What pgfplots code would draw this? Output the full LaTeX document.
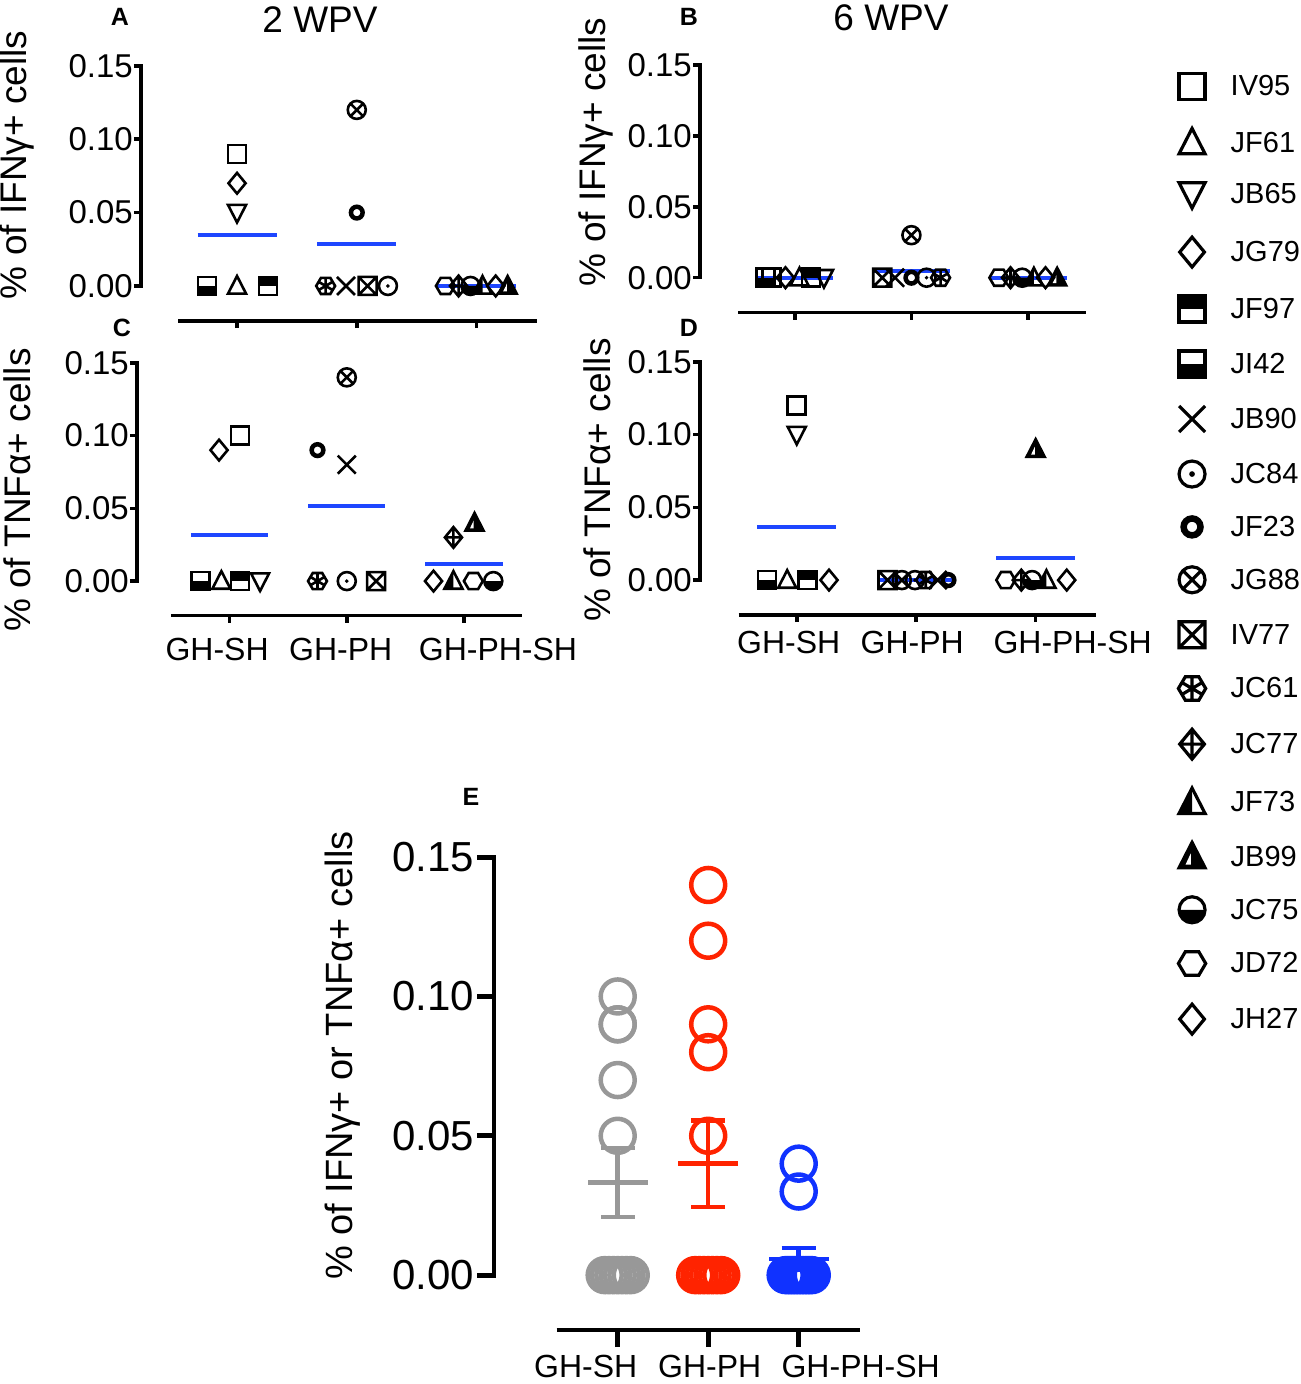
\documentclass[border=0pt]{standalone}
\usepackage{fontspec}
\setmainfont{Liberation Sans}
\usepackage{pgfplots}
\pgfplotsset{compat=1.18}

\definecolor{mblue}{RGB}{30,70,255}
\definecolor{egray}{RGB}{152,152,152}
\definecolor{ered}{RGB}{255,35,0}
\definecolor{eblue}{RGB}{16,50,255}

\def\mk{\pgfplotmarksize}
\def\sqpath{\pgfpathrectangle{\pgfqpoint{-\mk}{-\mk}}{\pgfqpoint{2\mk}{2\mk}}}
\def\tripath{\pgfpathmoveto{\pgfqpoint{0pt}{1.1\mk}}\pgfpathlineto{\pgfqpoint{-\mk}{-.85\mk}}\pgfpathlineto{\pgfqpoint{\mk}{-.85\mk}}\pgfpathclose}
\def\diapath{\pgfpathmoveto{\pgfqpoint{0pt}{1.15\mk}}\pgfpathlineto{\pgfqpoint{.95\mk}{0pt}}\pgfpathlineto{\pgfqpoint{0pt}{-1.15\mk}}\pgfpathlineto{\pgfqpoint{-.95\mk}{0pt}}\pgfpathclose}
\def\hexpath{\pgfpathmoveto{\pgfqpoint{1.05\mk}{0pt}}\pgfpathlineto{\pgfqpoint{.52\mk}{.9\mk}}\pgfpathlineto{\pgfqpoint{-.52\mk}{.9\mk}}\pgfpathlineto{\pgfqpoint{-1.05\mk}{0pt}}\pgfpathlineto{\pgfqpoint{-.52\mk}{-.9\mk}}\pgfpathlineto{\pgfqpoint{.52\mk}{-.9\mk}}\pgfpathclose}

\pgfdeclareplotmark{m-sq}{\sqpath\pgfusepathqstroke}
\pgfdeclareplotmark{m-tri}{\tripath\pgfusepathqstroke}
\pgfdeclareplotmark{m-trid}{\pgfpathmoveto{\pgfqpoint{0pt}{-1.1\mk}}\pgfpathlineto{\pgfqpoint{-\mk}{.85\mk}}\pgfpathlineto{\pgfqpoint{\mk}{.85\mk}}\pgfpathclose\pgfusepathqstroke}
\pgfdeclareplotmark{m-dia}{\diapath\pgfusepathqstroke}
\pgfdeclareplotmark{m-sqtop}{\pgfpathrectangle{\pgfqpoint{-\mk}{0pt}}{\pgfqpoint{2\mk}{\mk}}\pgfusepathqfill\sqpath\pgfusepathqstroke}
\pgfdeclareplotmark{m-sqbot}{\pgfpathrectangle{\pgfqpoint{-\mk}{-\mk}}{\pgfqpoint{2\mk}{\mk}}\pgfusepathqfill\sqpath\pgfusepathqstroke}
\pgfdeclareplotmark{m-x}{\pgfpathmoveto{\pgfqpoint{-\mk}{-\mk}}\pgfpathlineto{\pgfqpoint{\mk}{\mk}}\pgfpathmoveto{\pgfqpoint{-\mk}{\mk}}\pgfpathlineto{\pgfqpoint{\mk}{-\mk}}\pgfusepathqstroke}
\pgfdeclareplotmark{m-odot}{\pgfpathcircle{\pgfpointorigin}{\mk}\pgfusepathqstroke\pgfpathcircle{\pgfpointorigin}{.22\mk}\pgfusepathqfill}
\pgfdeclareplotmark{m-othick}{\pgfscope\pgfsetlinewidth{.5\mk}\pgfpathcircle{\pgfpointorigin}{.65\mk}\pgfusepathqstroke\endpgfscope}
\pgfdeclareplotmark{m-otimes}{\pgfpathcircle{\pgfpointorigin}{\mk}\pgfpathmoveto{\pgfqpoint{-.707\mk}{-.707\mk}}\pgfpathlineto{\pgfqpoint{.707\mk}{.707\mk}}\pgfpathmoveto{\pgfqpoint{-.707\mk}{.707\mk}}\pgfpathlineto{\pgfqpoint{.707\mk}{-.707\mk}}\pgfusepathqstroke}
\pgfdeclareplotmark{m-sqx}{\sqpath\pgfpathmoveto{\pgfqpoint{-\mk}{-\mk}}\pgfpathlineto{\pgfqpoint{\mk}{\mk}}\pgfpathmoveto{\pgfqpoint{-\mk}{\mk}}\pgfpathlineto{\pgfqpoint{\mk}{-\mk}}\pgfusepathqstroke}
\pgfdeclareplotmark{m-hex}{\hexpath\pgfusepathqstroke}
\pgfdeclareplotmark{m-hexast}{\hexpath\pgfpathmoveto{\pgfqpoint{0pt}{.9\mk}}\pgfpathlineto{\pgfqpoint{0pt}{-.9\mk}}\pgfpathmoveto{\pgfqpoint{-.68\mk}{.4\mk}}\pgfpathlineto{\pgfqpoint{.68\mk}{-.4\mk}}\pgfpathmoveto{\pgfqpoint{-.68\mk}{-.4\mk}}\pgfpathlineto{\pgfqpoint{.68\mk}{.4\mk}}\pgfusepathqstroke}
\pgfdeclareplotmark{m-diaplus}{\diapath\pgfpathmoveto{\pgfqpoint{0pt}{1.15\mk}}\pgfpathlineto{\pgfqpoint{0pt}{-1.15\mk}}\pgfpathmoveto{\pgfqpoint{-.95\mk}{0pt}}\pgfpathlineto{\pgfqpoint{.95\mk}{0pt}}\pgfusepathqstroke}
\pgfdeclareplotmark{m-trileft}{\pgfpathmoveto{\pgfqpoint{0pt}{1.1\mk}}\pgfpathlineto{\pgfqpoint{-\mk}{-.85\mk}}\pgfpathlineto{\pgfqpoint{0pt}{-.85\mk}}\pgfpathclose\pgfusepathqfill\tripath\pgfusepathqstroke}
\pgfdeclareplotmark{m-triright}{\tripath\pgfusepathqfillstroke\pgfscope\pgfsetfillcolor{white}\pgfpathmoveto{\pgfqpoint{-.1\mk}{.25\mk}}\pgfpathlineto{\pgfqpoint{-.5\mk}{-.6\mk}}\pgfpathlineto{\pgfqpoint{-.1\mk}{-.6\mk}}\pgfpathclose\pgfusepathqfill\endpgfscope}
\pgfdeclareplotmark{m-ohalf}{\pgfpathmoveto{\pgfqpoint{-\mk}{0pt}}\pgfpatharc{180}{360}{\mk}\pgfpathclose\pgfusepathqfill\pgfpathcircle{\pgfpointorigin}{\mk}\pgfusepathqstroke}

\pgfplotsset{
  pt/.style={only marks, black, mark size=9pt, mark options={solid, draw=black, fill=black, line width=2.6pt}},
  a-IV95/.style={pt, mark=m-sq}, a-JF61/.style={pt, mark=m-tri}, a-JB65/.style={pt, mark=m-trid},
  a-JG79/.style={pt, mark=m-dia}, a-JF97/.style={pt, mark=m-sqtop}, a-JI42/.style={pt, mark=m-sqbot},
  a-JB90/.style={pt, mark=m-x}, a-JC84/.style={pt, mark=m-odot}, a-JF23/.style={pt, mark=m-othick},
  a-JG88/.style={pt, mark=m-otimes}, a-IV77/.style={pt, mark=m-sqx}, a-JC61/.style={pt, mark=m-hexast},
  a-JC77/.style={pt, mark=m-diaplus}, a-JF73/.style={pt, mark=m-trileft}, a-JB99/.style={pt, mark=m-triright},
  a-JC75/.style={pt, mark=m-ohalf}, a-JD72/.style={pt, mark=m-hex}, a-JH27/.style={pt, mark=m-dia},
  meanl/.style={mblue, line width=4pt, forget plot},
  ebar/.style={only marks, #1, mark=-, mark size=30pt, mark options={solid, line width=4.5pt},
    error bars/.cd, y dir=both, y explicit, error bar style={line width=4.5pt, #1},
    error mark=-, error mark options={#1, rotate=90, mark size=17pt, line width=4.5pt}},
  epts/.style={only marks, #1, mark=o, mark size=17pt, mark options={solid, line width=4.5pt}},
  panel/.style={
    scale only axis, clip=false, anchor=south west,
    axis x line*=bottom, axis y line*=left,
    axis line style={draw=none},
    tick align=outside, major tick length=7pt,
    tick style={black, line width=3.5pt},
    xtick={1,2,3}, ytick={0,0.05,0.1,0.15},
    yticklabels={0.00,0.05,0.10,0.15},
    xticklabels={},
    /pgf/number format/assume math mode=true,
    yticklabel style={font=\fontsize{33}{33}\selectfont, inner sep=1pt},
    xticklabel style={font=\fontsize{32}{32}\selectfont, inner sep=0pt, anchor=north},
  },
}

\begin{document}
\begin{tikzpicture}
\useasboundingbox (0,0) rectangle (1301pt,-1384pt);
\clip (0,0) rectangle (1301pt,-1384pt);

% ---------------- Panel A ----------------
\begin{axis}[panel, at={(141pt,-321pt)}, width=396pt, height=255.1pt,
  xmin=0.198, xmax=3.505, ymin=-0.0239, ymax=0.15,
  ylabel={\% of IFNγ+ cells},
  ylabel style={at={(axis description cs:-0.313,0.612)}, anchor=center, font=\fontsize{37}{37}\selectfont}]
\addplot[a-IV95] coordinates {(1,0.09)};
\addplot[a-JF61] coordinates {(1,0)};
\addplot[a-JB65] coordinates {(1,0.05)};
\addplot[a-JG79] coordinates {(1,0.07)};
\addplot[a-JF97] coordinates {(1.26,0)};
\addplot[a-JI42] coordinates {(0.75,0)};
\addplot[a-JB90] coordinates {(1.91,0)};
\addplot[a-JC84] coordinates {(2.26,0)};
\addplot[a-JF23] coordinates {(2,0.05)};
\addplot[a-JG88] coordinates {(2,0.12)};
\addplot[a-IV77] coordinates {(2.09,0)};
\addplot[a-JC61] coordinates {(1.74,0)};
\addplot[a-JC77] coordinates {(2.85,0)};
\addplot[a-JF73] coordinates {(3.05,0)};
\addplot[a-JB99] coordinates {(3.26,0)};
\addplot[a-JC75] coordinates {(2.95,0)};
\addplot[a-JD72] coordinates {(2.74,0)};
\addplot[a-JH27] coordinates {(3.16,0)};
\addplot[meanl] coordinates {(0.67,0.035) (1.33,0.035)};
\addplot[meanl] coordinates {(1.67,0.0283) (2.33,0.0283)};
\addplot[meanl] coordinates {(2.67,0) (3.33,0)};
\draw[line width=3.5pt, line cap=rect] (axis cs:0.198,0) -- (axis cs:0.198,0.15);
\draw[line width=3.5pt] (axis cs:0.508,-0.0239) -- (axis cs:3.505,-0.0239);
\end{axis}

% ---------------- Panel B ----------------
\begin{axis}[panel, at={(700pt,-312.7pt)}, width=385.5pt, height=247.7pt,
  xmin=0.187, xmax=3.493, ymin=-0.0247, ymax=0.15,
  ylabel={\% of IFNγ+ cells},
  ylabel style={at={(axis description cs:-0.27,0.649)}, anchor=center, font=\fontsize{37}{37}\selectfont},
  legend style={at={(axis description cs:1.241,0.966)}, anchor=north west, draw=none, fill=none,
    inner sep=0pt, outer sep=0pt, row sep=29pt, column sep=25pt,
    font=\fontsize{29}{29}\selectfont, nodes={inner sep=0pt}},
  legend cell align=left,
  legend image code/.code={\draw[#1, mark size=13pt, every mark/.append style={line width=3.2pt}] plot coordinates {(14.5pt,0pt)};}]
\addplot[a-IV95] coordinates {(0.8,0)};
\addplot[a-JF61] coordinates {(1.04,0)};
\addplot[a-JB65] coordinates {(1.25,0)};
\addplot[a-JG79] coordinates {(0.92,0)};
\addplot[a-JF97] coordinates {(1.14,0)};
\addplot[a-JI42] coordinates {(0.75,0)};
\addplot[a-JB90] coordinates {(1.86,0)};
\addplot[a-JC84] coordinates {(2.13,0)};
\addplot[a-JF23] coordinates {(2,0)};
\addplot[a-JG88] coordinates {(2,0.03)};
\addplot[a-IV77] coordinates {(1.75,0)};
\addplot[a-JC61] coordinates {(2.25,0)};
\addplot[a-JC77] coordinates {(2.85,0)};
\addplot[a-JF73] coordinates {(3.05,0)};
\addplot[a-JB99] coordinates {(3.25,0)};
\addplot[a-JC75] coordinates {(2.95,0)};
\addplot[a-JD72] coordinates {(2.75,0)};
\addplot[a-JH27] coordinates {(3.15,0)};
\legend{IV95,JF61,JB65,JG79,JF97,JI42,JB90,JC84,JF23,JG88,IV77,JC61,JC77,JF73,JB99,JC75,JD72,JH27}
\addplot[meanl] coordinates {(0.67,0) (1.33,0)};
\addplot[meanl] coordinates {(1.67,0.005) (2.33,0.005)};
\addplot[meanl] coordinates {(2.67,0) (3.33,0)};
\draw[line width=3.5pt, line cap=rect] (axis cs:0.187,0) -- (axis cs:0.187,0.15);
\draw[line width=3.5pt] (axis cs:0.517,-0.0247) -- (axis cs:3.493,-0.0247);
\end{axis}

% ---------------- Panel C ----------------
\begin{axis}[panel, at={(137pt,-615.7pt)}, width=385pt, height=252.9pt,
  xmin=0.21, xmax=3.495, ymin=-0.0238, ymax=0.15,
  xticklabels={{\hspace*{-25pt}GH-SH},{\hspace*{-12pt}GH-PH},{\hspace*{68pt}GH-PH-SH}},
  xticklabel style={yshift=-15pt},
  ylabel={\% of TNFα+ cells},
  ylabel style={at={(axis description cs:-0.312,0.497)}, anchor=center, font=\fontsize{37}{37}\selectfont}]
\addplot[a-IV95] coordinates {(1.09,0.10)};
\addplot[a-JF61] coordinates {(0.93,0)};
\addplot[a-JB65] coordinates {(1.26,0)};
\addplot[a-JG79] coordinates {(0.91,0.09)};
\addplot[a-JF97] coordinates {(1.09,0)};
\addplot[a-JI42] coordinates {(0.75,0)};
\addplot[a-JB90] coordinates {(2,0.08)};
\addplot[a-JC84] coordinates {(2,0)};
\addplot[a-JF23] coordinates {(1.75,0.09)};
\addplot[a-JG88] coordinates {(2,0.14)};
\addplot[a-IV77] coordinates {(2.25,0)};
\addplot[a-JC61] coordinates {(1.75,0)};
\addplot[a-JC77] coordinates {(2.91,0.03)};
\addplot[a-JF73] coordinates {(2.91,0)};
\addplot[a-JB99] coordinates {(3.09,0.04)};
\addplot[a-JC75] coordinates {(3.25,0)};
\addplot[a-JD72] coordinates {(3.08,0)};
\addplot[a-JH27] coordinates {(2.74,0)};
\addplot[meanl] coordinates {(0.67,0.0317) (1.33,0.0317)};
\addplot[meanl] coordinates {(1.67,0.0517) (2.33,0.0517)};
\addplot[meanl] coordinates {(2.67,0.0117) (3.33,0.0117)};
\draw[line width=3.5pt, line cap=rect] (axis cs:0.21,0) -- (axis cs:0.21,0.15);
\draw[line width=3.5pt] (axis cs:0.50,-0.0238) -- (axis cs:3.495,-0.0238);
\end{axis}

% ---------------- Panel D ----------------
\begin{axis}[panel, at={(700pt,-615pt)}, width=396.1pt, height=253.2pt,
  xmin=0.19, xmax=3.506, ymin=-0.024, ymax=0.15,
  xticklabels={{\hspace*{-16pt}GH-SH},{\hspace*{-8pt}GH-PH},{\hspace*{74pt}GH-PH-SH}},
  xticklabel style={yshift=-9pt},
  ylabel={\% of TNFα+ cells},
  ylabel style={at={(axis description cs:-0.26,0.533)}, anchor=center, font=\fontsize{37}{37}\selectfont}]
\addplot[a-IV95] coordinates {(1,0.12)};
\addplot[a-JF61] coordinates {(0.92,0)};
\addplot[a-JB65] coordinates {(1,0.10)};
\addplot[a-JG79] coordinates {(1.27,0)};
\addplot[a-JF97] coordinates {(1.09,0)};
\addplot[a-JI42] coordinates {(0.75,0)};
\addplot[a-JB90] coordinates {(2.18,0)};
\addplot[a-JC84] coordinates {(1.99,0)};
\addplot[a-JF23] coordinates {(2.27,0)};
\addplot[a-JG88] coordinates {(1.88,0)};
\addplot[a-IV77] coordinates {(1.76,0)};
\addplot[a-JC61] coordinates {(2.08,0)};
\addplot[a-JC77] coordinates {(2.88,0)};
\addplot[a-JF73] coordinates {(3.09,0)};
\addplot[a-JB99] coordinates {(3,0.09)};
\addplot[a-JC75] coordinates {(2.97,0)};
\addplot[a-JD72] coordinates {(2.75,0)};
\addplot[a-JH27] coordinates {(3.26,0)};
\addplot[meanl] coordinates {(0.67,0.0367) (1.33,0.0367)};
\addplot[meanl] coordinates {(1.67,0) (2.33,0)};
\addplot[meanl] coordinates {(2.67,0.015) (3.33,0.015)};
\draw[line width=3.5pt, line cap=rect] (axis cs:0.19,0) -- (axis cs:0.19,0.15);
\draw[line width=3.5pt] (axis cs:0.513,-0.024) -- (axis cs:3.506,-0.024);
\end{axis}

% ---------------- Panel E ----------------
\begin{axis}[panel, at={(494pt,-1330pt)}, width=365.7pt, height=472.9pt,
  xmin=-0.367, xmax=3.674, ymin=-0.0197, ymax=0.15,
  major tick length=17pt, tick style={black, line width=4.8pt},
  yticklabel style={font=\fontsize{42}{42}\selectfont, inner sep=3pt},
  xticklabels={{\hspace*{-64pt}GH-SH},{\hspace*{3pt}GH-PH},{\hspace*{124pt}GH-PH-SH}},
  xticklabel style={yshift=-8pt},
  ylabel={\% of IFNγ+ or TNFα+ cells},
  ylabel style={at={(axis description cs:-0.413,0.58)}, anchor=center, font=\fontsize{38}{38}\selectfont}]
\addplot[epts=egray]
  coordinates {(1,0.10) (1,0.09) (1,0.09) (1,0.07) (1,0.05)
  (0.856,0) (0.904,0) (0.952,0) (1,0) (1.048,0) (1.096,0) (1.144,0)};
\addplot[epts=ered]
  coordinates {(2,0.14) (2,0.12) (2,0.09) (2,0.08) (2,0.05)
  (1.856,0) (1.904,0) (1.952,0) (2,0) (2.048,0) (2.096,0) (2.144,0)};
\addplot[epts=eblue]
  coordinates {(3,0.04) (3,0.03)
  (2.856,0) (2.888,0) (2.920,0) (2.952,0) (2.984,0) (3.016,0) (3.048,0) (3.080,0) (3.112,0) (3.144,0)};
\addplot[ebar=egray] coordinates {(1,0.0333) +- (0,0.0124)};
\addplot[ebar=ered] coordinates {(2,0.04) +- (0,0.0155)};
\addplot[ebar=eblue] coordinates {(3,0.0058) +- (0,0.0040)};
\draw[line width=4.8pt, line cap=rect] (axis cs:-0.367,0) -- (axis cs:-0.367,0.15);
\draw[line width=4.8pt] (axis cs:0.326,-0.0197) -- (axis cs:3.674,-0.0197);
\end{axis}

% ---------------- titles and panel letters ----------------
\node[font=\fontsize{37}{37}\selectfont] at (320pt,-19.5pt) {2 WPV};
\node[font=\fontsize{37}{37}\selectfont] at (891pt,-17.5pt) {6 WPV};
\node[font=\bfseries\fontsize{25}{25}\selectfont] at (120pt,-17pt) {A};
\node[font=\bfseries\fontsize{25}{25}\selectfont] at (689pt,-17pt) {B};
\node[font=\bfseries\fontsize{25}{25}\selectfont] at (122pt,-328pt) {C};
\node[font=\bfseries\fontsize{25}{25}\selectfont] at (689pt,-328pt) {D};
\node[font=\bfseries\fontsize{25}{25}\selectfont] at (471pt,-797pt) {E};
\end{tikzpicture}
\end{document}
